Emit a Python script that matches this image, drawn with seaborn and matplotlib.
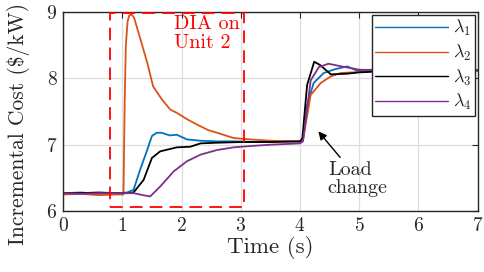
import matplotlib
matplotlib.use('Agg')
import matplotlib.pyplot as plt
from matplotlib.patches import Rectangle
import numpy as np
import pandas as pd
import seaborn as sns

# values (time in s, incremental cost in $/kW)
t_blue = [0, 0.3, 0.6, 0.9, 1.08, 1.19, 1.30, 1.42, 1.50, 1.58, 1.66, 1.80, 1.92, 2.09,
          2.32, 2.6, 2.9, 3.3, 3.7, 4.0, 4.05, 4.12, 4.23, 4.40, 4.60, 4.80, 4.95, 5.2,
          5.5, 6.0, 6.5, 7.0]
v_blue = [6.27, 6.28, 6.26, 6.27, 6.28, 6.32, 6.62, 6.92, 7.13, 7.18, 7.18, 7.14, 7.15, 7.08,
          7.06, 7.05, 7.05, 7.04, 7.05, 7.05, 7.08, 7.60, 7.93, 8.08, 8.14, 8.18, 8.12, 8.13,
          8.11, 8.12, 8.12, 8.12]

t_orange = [0, 0.3, 0.6, 0.9, 1.02, 1.04, 1.06, 1.09, 1.12, 1.16, 1.20, 1.27, 1.42, 1.52,
            1.67, 1.81, 1.92, 2.1, 2.27, 2.45, 2.6, 2.88, 3.16, 3.5, 4.0, 4.05, 4.18, 4.35,
            4.52, 4.69, 4.9, 5.2, 5.5, 6.0, 6.5, 7.0]
v_orange = [6.25, 6.26, 6.24, 6.25, 6.25, 7.60, 8.50, 8.86, 8.95, 8.96, 8.91, 8.70, 8.24, 7.88,
            7.68, 7.53, 7.48, 7.38, 7.30, 7.22, 7.18, 7.10, 7.08, 7.06, 7.05, 7.07, 7.75, 7.93,
            8.03, 8.08, 8.09, 8.11, 8.12, 8.12, 8.12, 8.12]

t_black = [0, 0.3, 0.6, 0.9, 1.10, 1.19, 1.36, 1.50, 1.64, 1.92, 2.15, 2.32, 2.6, 3.0,
           3.5, 4.0, 4.04, 4.12, 4.24, 4.34, 4.52, 4.8, 5.0, 5.5, 6.0, 6.5, 7.0]
v_black = [6.27, 6.27, 6.28, 6.27, 6.27, 6.28, 6.47, 6.80, 6.90, 6.96, 6.97, 7.02, 7.03, 7.04,
           7.04, 7.05, 7.10, 7.90, 8.25, 8.20, 8.06, 8.07, 8.09, 8.11, 8.12, 8.12, 8.12]

t_purple = [0, 0.3, 0.6, 0.9, 1.19, 1.35, 1.47, 1.64, 1.87, 2.09, 2.32, 2.6, 2.88, 3.16,
            3.5, 4.0, 4.05, 4.18, 4.32, 4.48, 4.7, 5.0, 5.5, 6.0, 6.5, 7.0]
v_purple = [6.27, 6.26, 6.27, 6.27, 6.27, 6.24, 6.22, 6.37, 6.60, 6.75, 6.85, 6.92, 6.96, 6.98,
            7.00, 7.02, 7.05, 7.97, 8.17, 8.22, 8.18, 8.13, 8.12, 8.12, 8.12, 8.12]

series_labels = [r'$\lambda_1$', r'$\lambda_2$', r'$\lambda_3$', r'$\lambda_4$']
series_colors = ['#0072BD', '#D95319', '#000000', '#7E2F8E']

x_ticks = [0, 1, 2, 3, 4, 5, 6, 7]
y_ticks = [6, 7, 8, 9]

dia_box = (0.8, 6.06, 3.05, 8.98)  # t0, v0, t1, v1

frames = []
for lab, t, v in zip(series_labels, [t_blue, t_orange, t_black, t_purple],
                     [v_blue, v_orange, v_black, v_purple]):
    frames.append(pd.DataFrame({'Time': t, 'Cost': v, 'series': lab}))
df = pd.concat(frames, ignore_index=True)

sns.set_style('white')
plt.rcParams['font.family'] = 'serif'
plt.rcParams['font.serif'] = ['cmr10', 'DejaVu Serif']
plt.rcParams['mathtext.fontset'] = 'cm'
plt.rcParams['axes.formatter.use_mathtext'] = True

fig = plt.figure(figsize=(4.85, 2.72), dpi=100)
ax = fig.add_axes([0.130, 0.224, 0.855, 0.732])

ax.grid(True, color='#dedede', linewidth=0.9)
ax.set_axisbelow(True)

sns.lineplot(data=df, x='Time', y='Cost', hue='series', palette=series_colors,
             estimator=None, sort=False, linewidth=1.3, ax=ax)

ax.add_patch(Rectangle((dia_box[0], dia_box[1]), dia_box[2] - dia_box[0],
                       dia_box[3] - dia_box[1], fill=False, edgecolor='#FF0000',
                       linestyle=(0, (7, 4)), linewidth=1.3, zorder=5))
ax.text(1.88, 8.95, 'DIA on\nUnit 2', color='#FF0000', fontsize=14.5, va='top', ha='left',
        linespacing=1.05)

ax.annotate('Load\nchange', xy=(4.31, 7.2), xytext=(4.47, 6.76), fontsize=14.5,
            va='top', ha='left', linespacing=1.05,
            arrowprops=dict(arrowstyle='-|>', color='black', lw=1.0, mutation_scale=12,
                            shrinkA=0, shrinkB=0, relpos=(0.25, 1.0)))

ax.set_xlim(0, 7)
ax.set_ylim(6, 9)
ax.set_xticks(x_ticks)
ax.set_yticks(y_ticks)
ax.tick_params(direction='in', top=True, right=True, labelsize=14, length=4, pad=4,
               color='#262626', labelcolor='#262626')
for s in ax.spines.values():
    s.set_color('#262626')
    s.set_linewidth(1.0)
ax.set_xlabel('Time (s)', fontsize=16.5, color='#262626', labelpad=1)
ax.set_ylabel(r'Incremental Cost (\$/kW)', fontsize=15.5, color='#262626')
ax.yaxis.set_label_coords(-0.08, 0.44)

handles, labels = ax.get_legend_handles_labels()
leg = ax.legend(handles, labels, loc='upper right', fontsize=13, handlelength=4.0,
                fancybox=False, framealpha=1, edgecolor='#262626', borderpad=0.2,
                borderaxespad=0.15, labelspacing=0.25, handletextpad=0.3)
leg.get_frame().set_linewidth(1.0)
for line in leg.get_lines():
    line.set_linewidth(1.0)

fig.savefig('out.png', dpi=100)
